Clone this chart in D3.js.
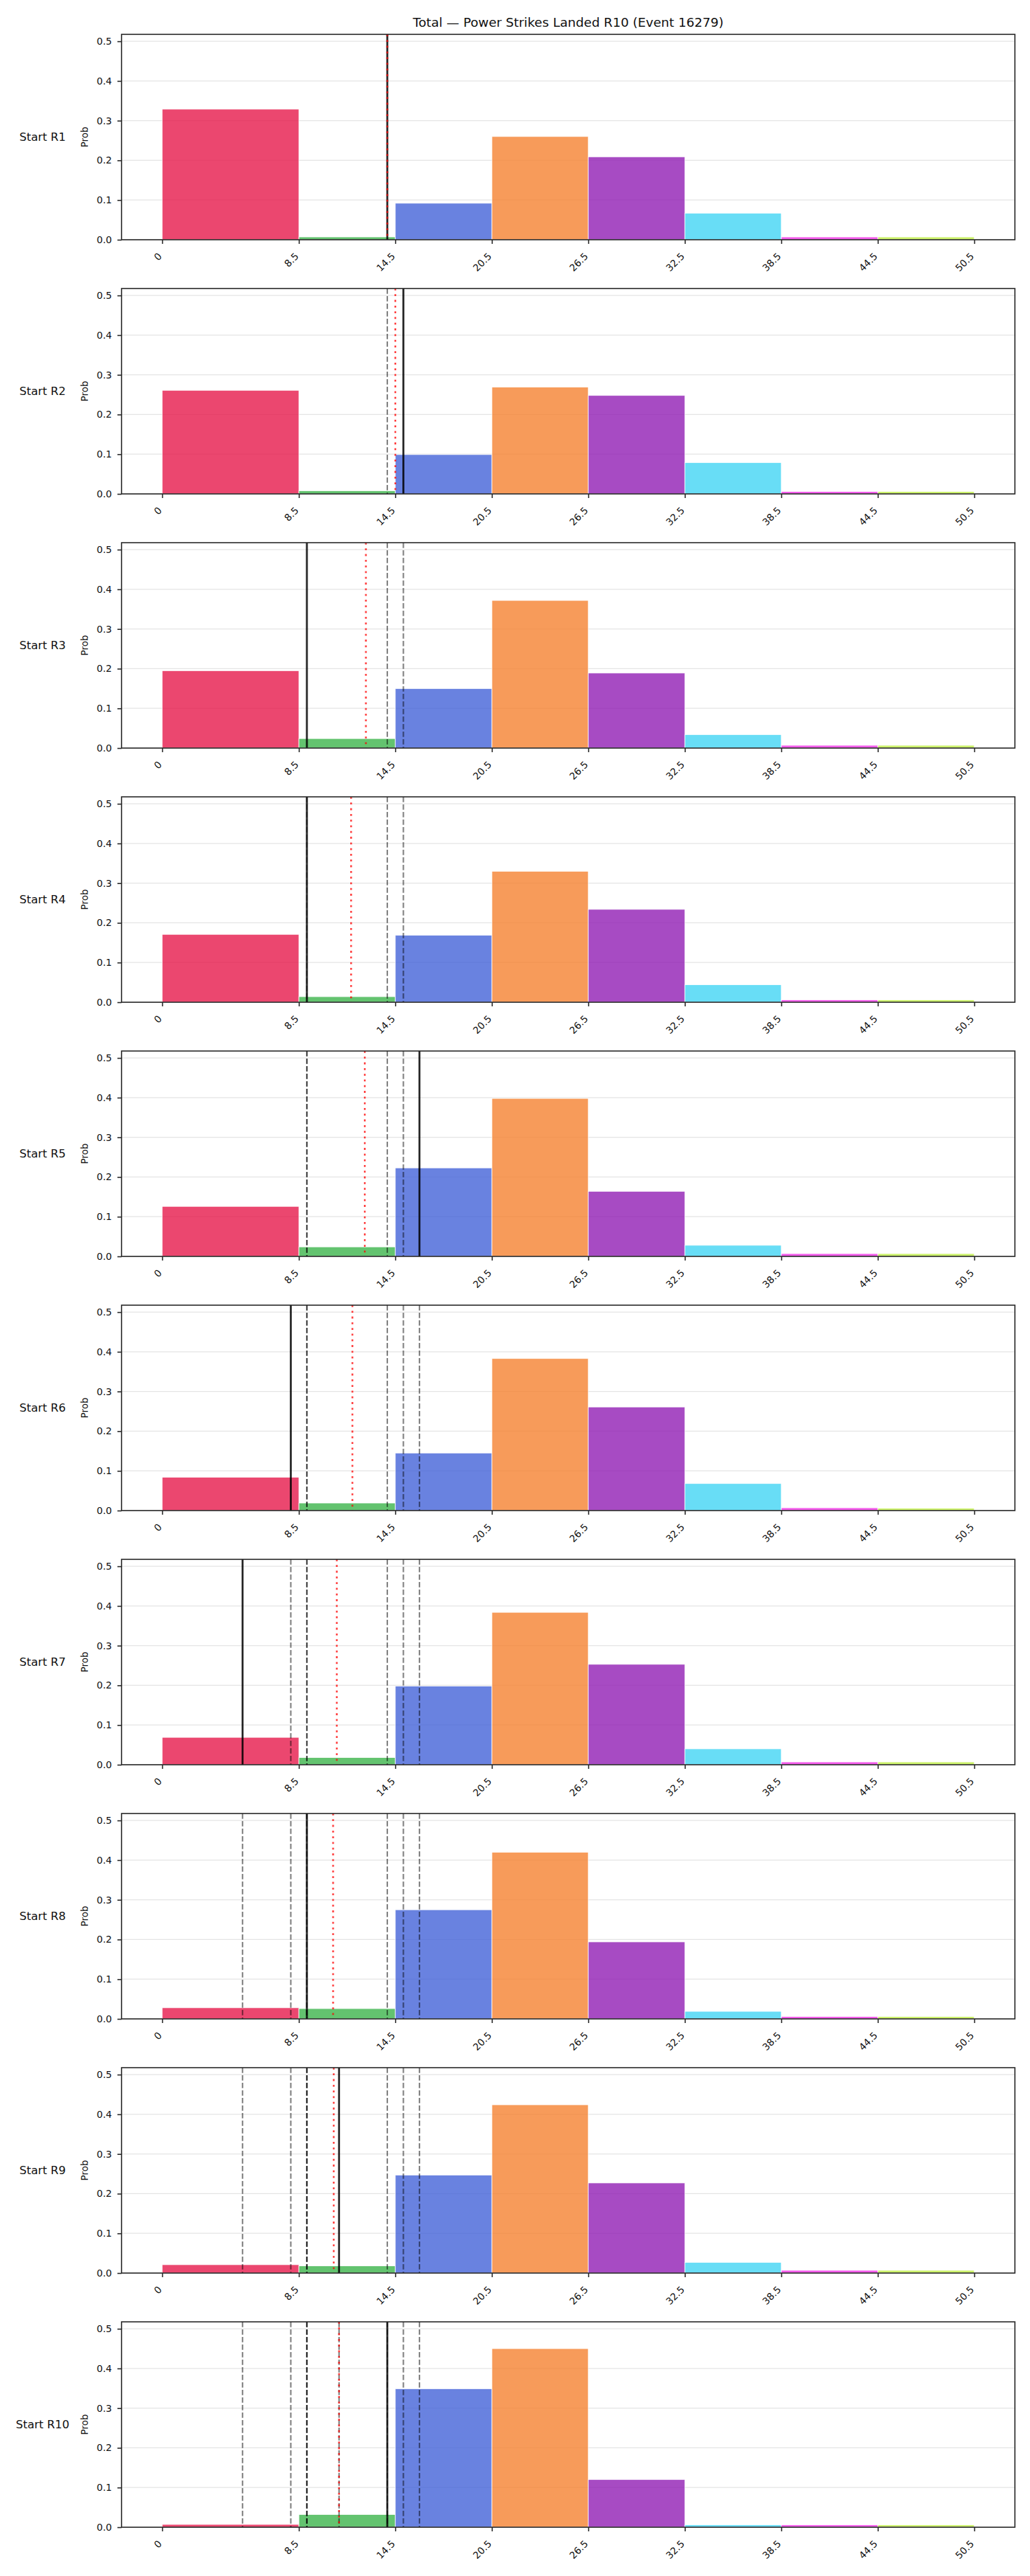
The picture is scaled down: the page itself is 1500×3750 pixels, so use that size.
<!DOCTYPE html>
<html>
<head>
<meta charset="utf-8">
<script src="https://cdn.jsdelivr.net/npm/d3@7/dist/d3.min.js"></script>
<style>
body { margin: 0; background: #fff; }
text { font-family: "DejaVu Sans", sans-serif; fill: #111; }
</style>
</head>
<body>
<div id="chart"></div>
<script>
//////////////////////////////////////////////////////////////////////////////
// Data

var chartTitle = "Total \u2014 Power Strikes Landed R10 (Event 16279)";

var binEdges = [0, 8.5, 14.5, 20.5, 26.5, 32.5, 38.5, 44.5, 50.5];
var tickLabels = ["0", "8.5", "14.5", "20.5", "26.5", "32.5", "38.5", "44.5", "50.5"];
var binColors = ["#e6194b", "#3cb44b", "#4363d8", "#f58231",
                 "#911eb4", "#42d4f4", "#f032e6", "#bfef45"];

var rounds = ["R1", "R2", "R3", "R4", "R5", "R6", "R7", "R8", "R9", "R10"];

// actual value of each round (solid line, later shown dashed)
var roundValues = [14, 15, 9, 9, 16, 8, 5, 9, 11, 14];
// red dotted line, one per panel
var runningMean = [14, 14.5, 12.67, 11.75, 12.6, 11.83, 10.86, 10.63, 10.67, 11.0];

// probability per bin, one list per starting round
var probR1  = [0.329, 0.007, 0.092, 0.260, 0.209, 0.067, 0.007, 0.007];
var probR2  = [0.261, 0.008, 0.099, 0.269, 0.248, 0.079, 0.006, 0.006];
var probR3  = [0.195, 0.024, 0.150, 0.372, 0.189, 0.034, 0.007, 0.007];
var probR4  = [0.171, 0.014, 0.169, 0.330, 0.234, 0.044, 0.006, 0.006];
var probR5  = [0.126, 0.024, 0.223, 0.398, 0.164, 0.028, 0.007, 0.007];
var probR6  = [0.084, 0.019, 0.145, 0.383, 0.261, 0.068, 0.007, 0.006];
var probR7  = [0.069, 0.018, 0.198, 0.384, 0.253, 0.040, 0.007, 0.007];
var probR8  = [0.028, 0.026, 0.275, 0.420, 0.194, 0.019, 0.006, 0.006];
var probR9  = [0.021, 0.018, 0.247, 0.424, 0.227, 0.027, 0.007, 0.007];
var probR10 = [0.007, 0.032, 0.349, 0.450, 0.120, 0.006, 0.006, 0.006];

var probs = [probR1, probR2, probR3, probR4, probR5,
             probR6, probR7, probR8, probR9, probR10];

//////////////////////////////////////////////////////////////////////////////
// Layout

var svgW = 1500, svgH = 3750;
var axLeft = 177, axRight = 1478;
var panelTop = 50, panelStep = 370, panelH = 299;

var span = binEdges[binEdges.length - 1] - binEdges[0];
var xScale = d3.scaleLinear()
    .domain([binEdges[0] - span * 0.05, binEdges[binEdges.length - 1] + span * 0.05])
    .range([axLeft, axRight]);

var yMax = d3.max(probs, function(p) { return d3.max(p); }) * 1.15;
var yScale = d3.scaleLinear().domain([0, yMax]).range([panelH, 0]);
var yTicks = [0, 0.1, 0.2, 0.3, 0.4, 0.5];

var svg = d3.select("#chart")
    .append("svg")
    .attr("width", svgW)
    .attr("height", svgH);

svg.append("rect")
    .attr("width", svgW)
    .attr("height", svgH)
    .attr("fill", "#fff");

svg.append("text")
    .attr("x", (axLeft + axRight) / 2)
    .attr("y", 38.5)
    .attr("text-anchor", "middle")
    .style("font-size", "18.5px")
    .text(chartTitle);

function drawPanel(k)
{
    var g = svg.append("g")
        .attr("transform", "translate(0," + (panelTop + k * panelStep) + ")");

    // grid
    g.append("g")
        .selectAll("line")
        .data(yTicks)
        .enter()
        .append("line")
        .attr("x1", axLeft)
        .attr("x2", axRight)
        .attr("y1", function(d) { return yScale(d); })
        .attr("y2", function(d) { return yScale(d); })
        .attr("stroke", "#e4e4e4")
        .attr("stroke-width", 1.3);

    // bars
    g.append("g")
        .selectAll("rect")
        .data(probs[k])
        .enter()
        .append("rect")
        .attr("x", function(d, i) { return xScale(binEdges[i]); })
        .attr("width", function(d, i) { return xScale(binEdges[i + 1]) - xScale(binEdges[i]); })
        .attr("y", function(d) { return yScale(d); })
        .attr("height", function(d) { return panelH - yScale(d); })
        .attr("fill", function(d, i) { return binColors[i]; })
        .attr("fill-opacity", 0.8)
        .attr("stroke", "#fff")
        .attr("stroke-width", 0.8);

    // earlier rounds, dashed
    g.append("g")
        .selectAll("line")
        .data(roundValues.slice(0, k))
        .enter()
        .append("line")
        .attr("x1", function(d) { return xScale(d); })
        .attr("x2", function(d) { return xScale(d); })
        .attr("y1", 0)
        .attr("y2", panelH)
        .attr("stroke", "#000")
        .attr("stroke-opacity", 0.5)
        .attr("stroke-width", 2.1)
        .attr("stroke-dasharray", "7.7,3.3");

    // this round, solid
    g.append("line")
        .attr("x1", xScale(roundValues[k]))
        .attr("x2", xScale(roundValues[k]))
        .attr("y1", 0)
        .attr("y2", panelH)
        .attr("stroke", "#000")
        .attr("stroke-opacity", 0.85)
        .attr("stroke-width", 2.8);

    // mean, red dotted
    g.append("line")
        .attr("x1", xScale(runningMean[k]))
        .attr("x2", xScale(runningMean[k]))
        .attr("y1", 0)
        .attr("y2", panelH)
        .attr("stroke", "#ff0000")
        .attr("stroke-opacity", 0.75)
        .attr("stroke-width", 2.6)
        .attr("stroke-dasharray", "2.8,5.5");

    // axes
    var yAxis = g.append("g")
        .attr("transform", "translate(" + axLeft + ",0)")
        .call(d3.axisLeft(yScale).tickValues(yTicks)
            .tickFormat(d3.format(".1f")).tickSize(6).tickPadding(8));

    var xAxis = g.append("g")
        .attr("transform", "translate(0," + panelH + ")")
        .call(d3.axisBottom(xScale).tickValues(binEdges)
            .tickFormat(function(d, i) { return tickLabels[i]; }).tickSize(6));

    xAxis.selectAll("text")
        .attr("y", null)
        .attr("dy", null)
        .attr("text-anchor", "end")
        .attr("transform", "translate(0,25) rotate(-45)");

    [yAxis, xAxis].forEach(function(a) {
        a.select(".domain").remove();
        a.selectAll("line").attr("stroke", "#262626").attr("stroke-width", 1.6);
        a.selectAll("text").style("font-size", "14px").attr("fill", "#111");
    });

    // frame
    g.append("rect")
        .attr("x", axLeft)
        .attr("y", 0)
        .attr("width", axRight - axLeft)
        .attr("height", panelH)
        .attr("fill", "none")
        .attr("stroke", "#262626")
        .attr("stroke-width", 1.6);

    g.append("text")
        .attr("transform", "translate(123," + panelH / 2 + ") rotate(-90)")
        .attr("text-anchor", "middle")
        .attr("dominant-baseline", "central")
        .style("font-size", "13.5px")
        .text("Prob");

    g.append("text")
        .attr("x", 62)
        .attr("y", panelH / 2)
        .attr("text-anchor", "middle")
        .attr("dominant-baseline", "central")
        .style("font-size", "16.5px")
        .text("Start " + rounds[k]);
}

rounds.forEach(function(r, k) { drawPanel(k); });
</script>
</body>
</html>
